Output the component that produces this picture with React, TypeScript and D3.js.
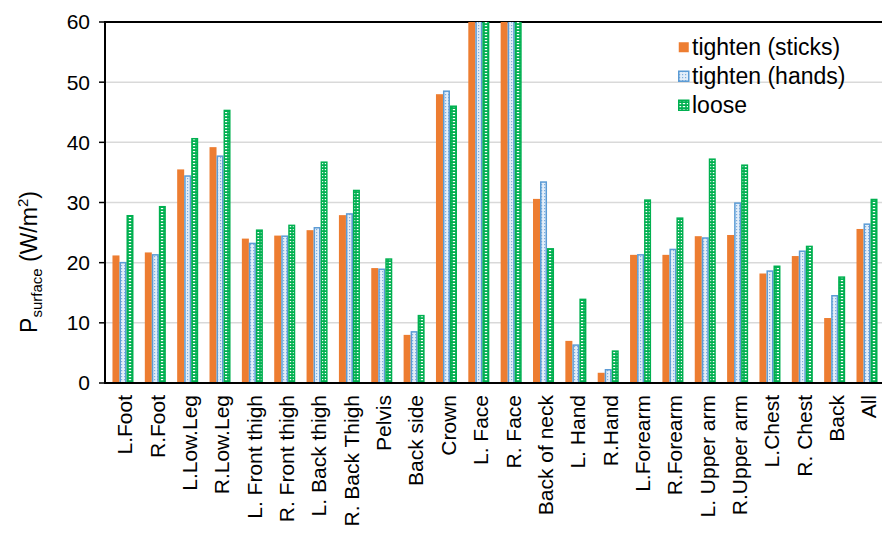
import { useEffect, useRef } from "react";
import * as d3 from "d3";

const categories = [
  "L.Foot", "R.Foot", "L.Low.Leg", "R.Low.Leg", "L. Front thigh", "R. Front thigh",
  "L. Back thigh", "R. Back Thigh", "Pelvis", "Back side", "Crown", "L. Face",
  "R. Face", "Back of neck", "L. Hand", "R.Hand", "L.Forearm", "R.Forearm",
  "L. Upper arm", "R.Upper arm", "L.Chest", "R. Chest", "Back", "All",
];

const sticks = [21.2, 21.7, 35.5, 39.2, 24.0, 24.5, 25.4, 27.9, 19.1, 8.0, 48.0, 65, 65, 30.6, 7.0, 1.7, 21.3, 21.3, 24.4, 24.6, 18.2, 21.1, 10.8, 25.6];
const hands = [20.0, 21.3, 34.4, 37.7, 23.2, 24.4, 25.8, 28.1, 18.9, 8.5, 48.5, 65, 65, 33.4, 6.3, 2.2, 21.3, 22.2, 24.1, 29.9, 18.6, 21.9, 14.5, 26.4];
const loose = [27.8, 29.3, 40.6, 45.3, 25.4, 26.2, 36.7, 32.0, 20.6, 11.2, 46.0, 65, 65, 22.3, 13.9, 5.3, 30.4, 27.4, 37.2, 36.2, 19.4, 22.7, 17.6, 30.5];

const seriesNames = ["tighten (sticks)", "tighten (hands)", "loose"];
const yTicks = [0, 10, 20, 30, 40, 50, 60];

const W = 882;
const H = 542;
const FONT = "'Liberation Sans', Arial, sans-serif";

export default function App() {
  const ref = useRef<SVGSVGElement>(null);

  useEffect(() => {
    if (!ref.current) return;
    const svg = d3.select(ref.current);
    svg.selectAll("*").remove();

    const left = 105;
    const top = 22;
    const bottom = 383;

    const x = d3.scaleBand<string>().domain(categories).range([106, 884]).paddingInner(0.35).paddingOuter(0.2);
    const x1 = d3.scaleBand<number>().domain([0, 1, 2]).range([0, x.bandwidth()]);
    const y = d3.scaleLinear().domain([0, 60]).range([bottom, top]);

    const defs = svg.append("defs");
    const gp = defs.append("pattern").attr("id", "greenPat").attr("patternUnits", "userSpaceOnUse").attr("width", 4).attr("height", 3);
    gp.append("rect").attr("width", 4).attr("height", 3).attr("fill", "#00B050");
    gp.append("rect").attr("x", 0.8).attr("y", 1).attr("width", 2.4).attr("height", 1.2).attr("fill", "#fff");
    const bp = defs.append("pattern").attr("id", "bluePat").attr("patternUnits", "userSpaceOnUse").attr("width", 3).attr("height", 3);
    bp.append("rect").attr("width", 3).attr("height", 3).attr("fill", "#E3EEF9");
    bp.append("rect").attr("x", 1).attr("y", 1).attr("width", 1.2).attr("height", 1.2).attr("fill", "#7FAEDD");
    defs.append("clipPath").attr("id", "plotClip").append("rect").attr("x", left).attr("y", top).attr("width", W - left).attr("height", bottom - top);

    // gridlines
    svg.append("g").selectAll("line").data(yTicks.filter((t) => t > 0 && t < 60)).join("line")
      .attr("x1", left).attr("x2", W).attr("y1", (d) => y(d)).attr("y2", (d) => y(d))
      .attr("stroke", "#D9D9D9").attr("stroke-width", 1.5);
    svg.append("line").attr("x1", left).attr("x2", W).attr("y1", y(60)).attr("y2", y(60))
      .attr("stroke", "#000").attr("stroke-width", 2);

    const series = [
      { values: sticks, fill: "#ED7D31", stroke: "none" },
      { values: hands, fill: "url(#bluePat)", stroke: "#5B9BD5" },
      { values: loose, fill: "url(#greenPat)", stroke: "#00B050" },
    ];

    const bars = svg.append("g").attr("clip-path", "url(#plotClip)");
    series.forEach((s, si) => {
      bars.append("g").selectAll("rect").data(s.values).join("rect")
        .attr("x", (_, i) => (x(categories[i]) ?? 0) + (x1(si) ?? 0) + (si === 0 ? 0 : 0.75))
        .attr("y", (d) => y(d))
        .attr("width", x1.bandwidth() - (si === 0 ? 0 : 1.5))
        .attr("height", (d) => bottom - y(d))
        .attr("fill", s.fill)
        .attr("stroke", s.stroke)
        .attr("stroke-width", 1.5);
    });

    // axes
    svg.append("line").attr("x1", left).attr("x2", left).attr("y1", top - 1).attr("y2", bottom + 1)
      .attr("stroke", "#000").attr("stroke-width", 2);
    svg.append("line").attr("x1", left).attr("x2", W).attr("y1", bottom).attr("y2", bottom)
      .attr("stroke", "#000").attr("stroke-width", 2);

    const yAxis = svg.append("g");
    yAxis.selectAll("line").data(yTicks).join("line")
      .attr("x1", left - 6).attr("x2", left).attr("y1", (d) => y(d)).attr("y2", (d) => y(d))
      .attr("stroke", "#000").attr("stroke-width", 1.5);
    yAxis.selectAll("text").data(yTicks).join("text")
      .attr("x", 90).attr("y", (d) => y(d)).attr("dy", "0.35em")
      .attr("text-anchor", "end").attr("font-family", FONT).attr("font-size", 21).attr("fill", "#000")
      .text((d) => d);

    // x labels
    svg.append("g").selectAll("text").data(categories).join("text")
      .attr("transform", (d) => `translate(${(x(d) ?? 0) + x.bandwidth() / 2 + 2},${bottom + 12}) rotate(-90)`)
      .attr("dy", "0.35em")
      .attr("text-anchor", "end").attr("font-family", FONT).attr("font-size", 21).attr("fill", "#000")
      .text((d) => d);

    // y title
    const title = svg.append("text")
      .attr("transform", `translate(37,262) rotate(-90)`)
      .attr("text-anchor", "middle").attr("font-family", FONT).attr("font-size", 23).attr("fill", "#000");
    title.append("tspan").text("P");
    title.append("tspan").attr("font-size", 15).attr("dy", 5).text("surface");
    title.append("tspan").attr("dy", -5).text(" (W/m");
    title.append("tspan").attr("font-size", 15).attr("dy", -9).text("2");
    title.append("tspan").attr("dy", 9).text(")");

    // legend
    const legend = svg.append("g").attr("transform", "translate(678,47)");
    const keyFill = ["#ED7D31", "url(#bluePat)", "url(#greenPat)"];
    const keyStroke = ["none", "#5B9BD5", "#00B050"];
    seriesNames.forEach((name, i) => {
      const row = legend.append("g").attr("transform", `translate(0,${i * 29})`);
      row.append("rect").attr("x", 0.75).attr("y", -4.75).attr("width", 10).attr("height", 10)
        .attr("fill", keyFill[i]).attr("stroke", keyStroke[i]).attr("stroke-width", 1.5);
      row.append("text").attr("x", 14).attr("y", 0).attr("dy", "0.35em")
        .attr("font-family", FONT).attr("font-size", 23).attr("fill", "#000").text(name);
    });
  }, []);

  return (
    <svg
      ref={ref}
      width={W}
      height={H}
      style={{ position: "absolute", left: 0, top: 0, background: "#fff" }}
    />
  );
}
